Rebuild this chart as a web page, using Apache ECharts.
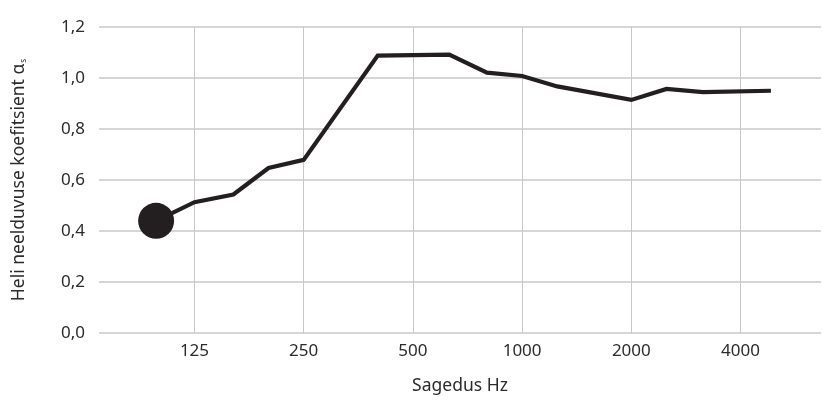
<!DOCTYPE html>
<html><head><meta charset="utf-8">
<script src="https://cdn.jsdelivr.net/npm/echarts@6/dist/echarts.min.js"></script>
<style>html,body{margin:0;padding:0;background:#fff}#c{width:822px;height:400px}</style>
</head><body><div id="c"></div>
<script>
// Frequencies (Hz) of the plotted points and absorption coefficient values
const frequencies = [98, 125, 160, 200, 250, 400, 630, 800, 1000, 1250, 2000, 2500, 3150, 4850];
const absorption = [0.44, 0.513, 0.543, 0.647, 0.679, 1.088, 1.092, 1.021, 1.008, 0.967, 0.914, 0.957, 0.945, 0.95];
const xTickLabels = [125, 250, 500, 1000, 2000, 4000];
const xAxisRangeHz = [68.2, 6665];
const yTickLabels = ['0,0', '0,2', '0,4', '0,6', '0,8', '1,0', '1,2'];

const BASE = 125;
const oct = f => Math.log2(f / BASE);
const FONT = '"Noto Sans", sans-serif';
const INK = '#231f20';
const TXT = '#2b2b2b';
const GRID = '#c8c8c8';

const chart = echarts.init(document.getElementById('c'), null, {renderer: 'canvas'});
chart.setOption({
  animation: false,
  backgroundColor: '#fff',
  grid: {left: 99, right: 1, top: 27, bottom: 62.5, containLabel: false},
  xAxis: {
    type: 'value',
    min: oct(xAxisRangeHz[0]),
    max: oct(xAxisRangeHz[1]),
    name: 'Sagedus Hz',
    nameLocation: 'middle',
    nameGap: 44,
    nameTextStyle: {fontFamily: FONT, fontSize: 17.5, color: TXT},
    axisLine: {show: false},
    axisTick: {show: false, customValues: xTickLabels.map(oct)},
    axisLabel: {
      customValues: xTickLabels.map(oct),
      formatter: v => String(Math.round(BASE * Math.pow(2, v))),
      fontFamily: FONT, fontSize: 17, color: TXT, margin: 10
    },
    splitLine: {show: true, lineStyle: {color: GRID, width: 1}}
  },
  yAxis: {
    type: 'value',
    min: 0, max: 1.2, interval: 0.2,
    name: 'Heli neelduvuse koefitsient α{sub|s}',
    nameLocation: 'middle',
    nameGap: 71,
    nameTextStyle: {
      fontFamily: FONT, fontSize: 17.5, color: TXT,
      rich: {sub: {fontFamily: FONT, fontSize: 8, color: TXT, verticalAlign: 'bottom', padding: [10, 0, 0, 1]}}
    },
    axisLine: {show: false},
    axisTick: {show: false},
    axisLabel: {
      formatter: v => yTickLabels[Math.round(v / 0.2)],
      fontFamily: FONT, fontSize: 17, color: TXT, margin: 14
    },
    splitLine: {show: true, lineStyle: {color: GRID, width: 1.5}}
  },
  series: [{
    type: 'line',
    data: frequencies.map((f, i) => i === 0
      ? {value: [oct(f), absorption[i]], symbol: 'circle', symbolSize: 36}
      : {value: [oct(f), absorption[i]], symbol: 'none', symbolSize: 0}),
    showAllSymbol: true,
    lineStyle: {color: INK, width: 4.2, join: 'miter'},
    itemStyle: {color: INK},
    z: 5
  }]
});
</script></body></html>
